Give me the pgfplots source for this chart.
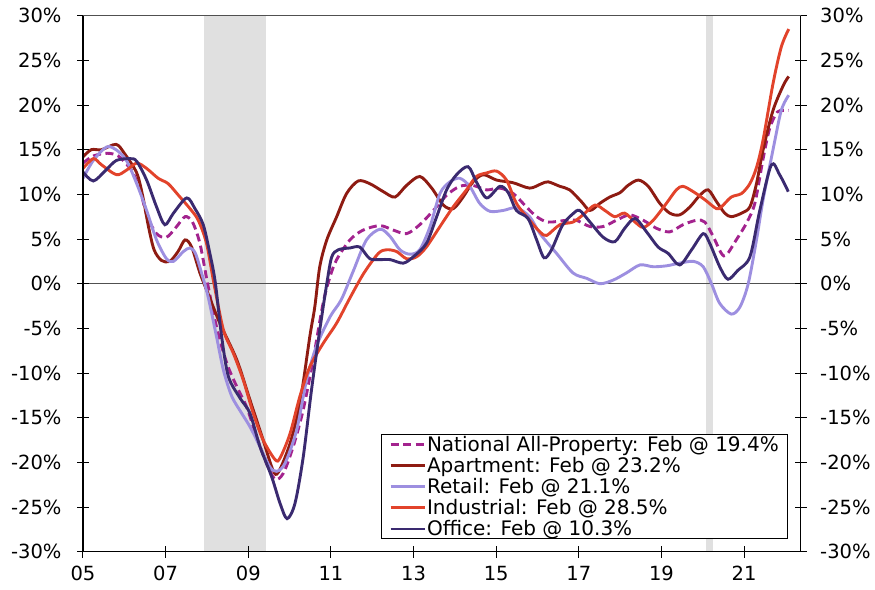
\documentclass[border=0pt]{standalone}
\usepackage{fontspec}
\setmainfont{DejaVu Sans}
\usepackage{pgfplots}
\pgfplotsset{compat=1.18}
\definecolor{natc}{HTML}{A3238E}
\definecolor{aptc}{HTML}{8E1B12}
\definecolor{retc}{HTML}{9D8FE0}
\definecolor{indc}{HTML}{E2432B}
\definecolor{offc}{HTML}{3A2A70}
\definecolor{shadec}{HTML}{E0E0E0}
\definecolor{zeroc}{HTML}{505050}
\begin{document}
\begin{tikzpicture}
\pgfplotsset{
  common/.style={
    scale only axis, width=717.7bp, height=536bp,
    xmin=2005, xmax=2022.37, ymin=-30, ymax=30,
    ytick={-30,-25,...,30},
    yticklabels={-30\%,-25\%,-20\%,-15\%,-10\%,-5\%,0\%,5\%,10\%,15\%,20\%,25\%,30\%},
    tick align=center, major tick length=12bp,
    tick style={black, line width=1bp},
    tick label style={font=\fontsize{19.5bp}{22bp}\selectfont},
    axis line style={black, line width=1.3bp},
  },
  ser/.style={line width=2.9bp, smooth, tension=0.5, no markers},
}
\begin{axis}[common, axis x line*=bottom, axis y line*=left,
  axis on top,
  xtick={2005,2007,...,2021},
  xticklabels={05,07,09,11,13,15,17,19,21},
  yticklabel style={xshift=-12bp},
  xticklabel style={yshift=-7bp, inner ysep=1bp},
  legend style={at={(0.9827,0.0231)}, anchor=south east, draw=black, line width=1bp,
    font=\fontsize{20bp}{22bp}\selectfont, row sep=3.5bp, inner xsep=8bp, inner ysep=1bp,
    nodes={inner xsep=1bp, inner ysep=0.5bp}},
  legend cell align=left,
  legend image code/.code={\draw[#1] (0bp,0bp) -- (34bp,0bp);},
]
\fill[shadec] (axis cs:2007.917,-30) rectangle (axis cs:2009.417,30);
\fill[shadec] (axis cs:2020.08,-30) rectangle (axis cs:2020.25,30);
\draw[zeroc, line width=1bp] (axis cs:2005,0) -- (axis cs:2022.37,0);

\addplot[ser, natc, dash pattern=on 8bp off 4.5bp] coordinates {
(2005.0,13.5) (2005.25,14.3) (2005.6,14.6) (2005.85,14.3) (2006.05,13.4) (2006.2,12.5)
(2006.38,10.5) (2006.55,7.6) (2006.78,5.6) (2007.02,5.2) (2007.25,6.3) (2007.47,7.5)
(2007.65,6.9) (2007.83,4.5) (2008.0,0.4) (2008.23,-4.8) (2008.48,-8.9) (2008.72,-11.5)
(2008.96,-13.8) (2009.2,-17.1) (2009.44,-20.1) (2009.65,-21.9) (2009.85,-21.2)
(2010.09,-18.2) (2010.33,-14.1) (2010.57,-8.5) (2010.81,-2.2) (2010.98,0.8)
(2011.14,2.7) (2011.46,4.9) (2011.78,6.0) (2012.19,6.5) (2012.51,6.0) (2012.83,5.6)
(2013.15,6.6) (2013.48,8.2) (2013.8,9.9) (2014.12,10.9) (2014.44,11.0) (2014.77,10.5)
(2015.09,10.7) (2015.41,10.1) (2015.73,8.6) (2015.98,7.5) (2016.26,6.9) (2016.7,7.1)
(2016.94,7.1) (2017.27,6.4) (2017.59,6.4) (2017.91,7.1) (2018.23,7.7) (2018.56,7.1)
(2018.88,6.2) (2019.2,5.8) (2019.52,6.6) (2019.85,7.1) (2020.05,6.9) (2020.25,5.3)
(2020.45,3.4) (2020.57,3.2) (2020.81,4.9) (2021.06,6.8) (2021.26,9.0) (2021.46,14.0)
(2021.62,17.4) (2021.8,19.2) (2021.95,19.4) (2022.08,19.4)
};
\addlegendentry{National All-Property: Feb @ 19.4\%}

\addplot[ser, aptc] coordinates {
(2005.0,14.2) (2005.2,15.0) (2005.45,15.0) (2005.8,15.6) (2006.0,14.6) (2006.3,12.4)
(2006.45,9.7) (2006.58,6.5) (2006.72,3.8) (2006.9,2.6) (2007.1,2.5) (2007.3,3.6)
(2007.47,4.9) (2007.63,4.1) (2007.83,1.2) (2008.0,-0.8) (2008.31,-4.4) (2008.72,-8.5)
(2009.04,-13.0) (2009.36,-17.5) (2009.6,-20.9) (2009.73,-21.1) (2010.01,-17.9)
(2010.25,-13.4) (2010.49,-5.9) (2010.61,-2.6) (2010.73,1.9) (2010.9,4.9) (2011.14,7.5)
(2011.38,10.1) (2011.66,11.5) (2011.94,11.2) (2012.27,10.3) (2012.55,9.7) (2012.83,11.0)
(2013.15,12.0) (2013.44,10.7) (2013.72,8.8) (2013.96,8.4) (2014.2,9.7) (2014.44,11.4)
(2014.69,12.2) (2015.01,11.6) (2015.41,11.3) (2015.81,10.7) (2016.1,11.2) (2016.26,11.4)
(2016.54,10.9) (2016.78,10.5) (2017.06,9.2) (2017.27,8.2) (2017.51,9.0) (2017.75,9.7)
(2018.0,10.2) (2018.19,11.0) (2018.44,11.6) (2018.68,10.9) (2018.96,9.0) (2019.2,7.9)
(2019.44,7.7) (2019.69,8.6) (2019.93,9.9) (2020.13,10.5) (2020.33,9.2) (2020.53,7.9)
(2020.69,7.5) (2020.94,7.9) (2021.14,8.6) (2021.3,11.2) (2021.46,15.0) (2021.7,19.4)
(2021.95,22.2) (2022.08,23.2)
};
\addlegendentry{Apartment: Feb @ 23.2\%}

\addplot[ser, retc] coordinates {
(2005.0,11.8) (2005.25,13.8) (2005.57,15.3) (2005.8,15.0) (2006.05,13.8) (2006.3,11.2)
(2006.54,8.2) (2006.78,4.9) (2007.02,2.8) (2007.19,2.5) (2007.43,3.6) (2007.59,4.0)
(2007.72,3.4) (2007.87,1.2) (2008.03,-1.5) (2008.23,-5.9) (2008.4,-9.7) (2008.6,-12.6)
(2008.84,-14.5) (2009.04,-16.0) (2009.28,-18.2) (2009.52,-20.5) (2009.69,-21.0)
(2009.89,-20.1) (2010.17,-16.4) (2010.41,-10.8) (2010.65,-7.0) (2010.98,-3.7)
(2011.25,-1.8) (2011.54,1.4) (2011.86,4.9) (2012.19,6.1) (2012.43,5.3) (2012.67,3.8)
(2012.91,3.3) (2013.15,3.8) (2013.4,6.4) (2013.64,10.1) (2013.88,11.4) (2014.12,11.8)
(2014.36,10.9) (2014.6,9.0) (2014.85,8.1) (2015.17,8.2) (2015.49,8.5) (2015.81,7.5)
(2016.06,5.6) (2016.46,3.4) (2016.86,1.2) (2017.19,0.6) (2017.51,0.0) (2017.83,0.4)
(2018.15,1.2) (2018.48,2.1) (2018.8,1.9) (2019.12,2.0) (2019.44,2.3) (2019.77,2.5)
(2020.01,1.9) (2020.21,0.0) (2020.41,-2.2) (2020.69,-3.4) (2020.9,-2.6) (2021.1,0.0)
(2021.3,4.9) (2021.46,9.4) (2021.7,15.0) (2021.9,19.4) (2022.08,21.1)
};
\addlegendentry{Retail: Feb @ 21.1\%}

\addplot[ser, indc] coordinates {
(2005.0,12.9) (2005.25,14.0) (2005.45,13.3) (2005.81,12.2) (2006.05,12.7) (2006.3,13.5)
(2006.54,12.9) (2006.82,11.8) (2007.06,11.2) (2007.31,9.9) (2007.59,8.4) (2007.79,7.1)
(2007.99,4.5) (2008.17,0.0) (2008.4,-5.2) (2008.64,-7.8) (2008.88,-10.8) (2009.12,-14.5)
(2009.36,-17.5) (2009.65,-19.7) (2009.77,-19.5) (2010.01,-16.8) (2010.25,-12.6)
(2010.49,-9.3) (2010.81,-6.7) (2011.14,-4.4) (2011.46,-1.6) (2011.8,1.2) (2012.15,3.4)
(2012.35,3.8) (2012.59,3.6) (2012.83,2.8) (2013.07,3.0) (2013.31,4.1) (2013.64,6.4)
(2013.96,8.6) (2014.28,10.5) (2014.52,12.0) (2014.77,12.4) (2015.01,12.6) (2015.25,11.6)
(2015.49,9.0) (2015.81,7.1) (2016.06,5.8) (2016.22,5.4) (2016.54,6.6) (2016.86,6.9)
(2017.1,7.7) (2017.39,8.8) (2017.63,8.2) (2017.87,7.5) (2018.11,7.9) (2018.36,6.9)
(2018.56,6.3) (2018.8,7.1) (2019.12,9.0) (2019.36,10.5) (2019.52,10.9) (2019.77,10.3)
(2020.05,9.4) (2020.33,8.4) (2020.45,8.6) (2020.69,9.7) (2020.94,10.1) (2021.14,11.2)
(2021.3,13.0) (2021.46,16.1) (2021.7,22.4) (2021.9,26.5) (2022.08,28.5)
};
\addlegendentry{Industrial: Feb @ 28.5\%}

\addplot[ser, offc] coordinates {
(2005.0,12.5) (2005.25,11.5) (2005.55,12.7) (2005.81,13.8) (2006.14,14.0) (2006.3,13.7)
(2006.54,11.6) (2006.78,8.6) (2006.98,6.6) (2007.19,7.9) (2007.51,9.6) (2007.71,8.4)
(2007.91,6.6) (2008.07,3.4) (2008.2,0.2) (2008.355,-5.9) (2008.52,-10.4) (2008.8,-12.8)
(2009.04,-14.5) (2009.28,-18.2) (2009.565,-21.6) (2009.77,-24.6) (2009.94,-26.3)
(2010.13,-24.6) (2010.33,-19.4) (2010.53,-11.9) (2010.73,-5.2) (2010.9,0.0)
(2011.02,3.0) (2011.18,3.8) (2011.46,4.0) (2011.7,4.1) (2011.94,2.8) (2012.19,2.7)
(2012.43,2.7) (2012.75,2.3) (2012.99,3.0) (2013.31,4.5) (2013.56,7.5) (2013.8,10.5)
(2014.04,12.2) (2014.32,13.1) (2014.52,11.4) (2014.77,9.6) (2015.09,10.9) (2015.29,10.2)
(2015.49,8.2) (2015.77,7.3) (2015.98,4.9) (2016.16,2.9) (2016.34,3.8) (2016.6,6.5)
(2016.85,7.8) (2017.02,8.2) (2017.27,6.9) (2017.59,5.2) (2017.87,4.7) (2018.11,6.2)
(2018.36,7.3) (2018.64,5.8) (2018.92,4.1) (2019.16,3.4) (2019.44,2.1) (2019.73,3.8)
(2020.01,5.6) (2020.17,4.5) (2020.41,1.9) (2020.61,0.5) (2020.85,1.5) (2021.14,3.0)
(2021.38,8.2) (2021.66,13.3) (2021.86,12.2) (2022.07,10.3)
};
\addlegendentry{Office: Feb @ 10.3\%}
\end{axis}
\begin{axis}[common, axis x line*=top, axis y line*=right, xtick=\empty,
  yticklabel style={xshift=10bp},
  x axis line style={zeroc, line width=1bp}]
\end{axis}
\pgfresetboundingbox
\useasboundingbox (-83bp,-37.5bp) rectangle (792bp,551.7bp);
\end{tikzpicture}
\end{document}
